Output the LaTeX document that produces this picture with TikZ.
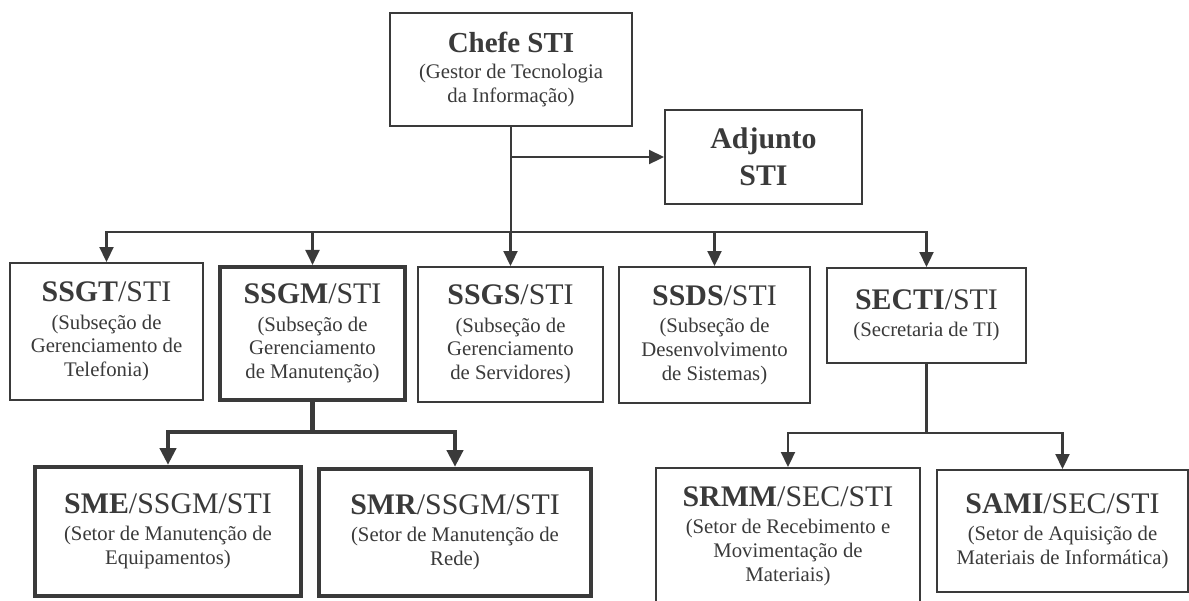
\documentclass[tikz,border=0pt]{standalone}
\usepackage{fontspec}
\setmainfont{Liberation Serif}
\usepackage{tikz}
\usetikzlibrary{positioning}
\usetikzlibrary{arrows.meta}

\definecolor{ink}{HTML}{3A3A3A}
\newcommand{\ttl}{\fontsize{17}{20}\selectfont}
\newcommand{\sub}{\fontsize{11.8}{13.5}\selectfont}

\begin{document}
\begin{tikzpicture}[
        box/.style 2 args = {
            draw = ink,
            line width = 1.2pt,
            fill = white,
            text = ink,
            align = center,
            font = \sub,
            inner sep = 0pt,
            minimum width = #1,
            minimum height = #2
        },
        heavy/.style = {line width = 2.4pt},
        link/.style = {draw = ink, line width = 1.2pt, -{Triangle[length=8.5pt, width=8pt]}},
        heavylink/.style = {draw = ink, line width = 2.4pt, -{Triangle[length=9.5pt, width=9pt]}}
        ]
%
        \useasboundingbox (0,0) rectangle (23.78,-12);
        \clip (0,0) rectangle (23.78,-12);
%
        \node[box={4.84cm}{2.26cm}, font=\fontsize{11.8}{14}\selectfont] (chefe) at (10.22,-1.39)
            {{\fontsize{16.5}{20}\selectfont\bfseries Chefe STI}\\[1pt] (Gestor de Tecnologia\\ da Informação)};
        \node[box={3.94cm}{1.88cm}, font=\fontsize{17}{21}\selectfont\bfseries] (adj) at (15.27,-3.14)
            {Adjunto\\ STI};
%
        \node[box={3.86cm}{2.74cm}] (ssgt) at (2.13,-6.63)
            {{\ttl\textbf{SSGT}/STI}\\[2pt] (Subseção de\\ Gerenciamento de\\ Telefonia)};
        \node[box={3.70cm}{2.66cm}, heavy] (ssgm) at (6.25,-6.67)
            {{\ttl\textbf{SSGM}/STI}\\[2pt] (Subseção de\\ Gerenciamento\\ de Manutenção)};
        \node[box={3.70cm}{2.70cm}] (ssgs) at (10.21,-6.69)
            {{\ttl\textbf{SSGS}/STI}\\[2pt] (Subseção de\\ Gerenciamento\\ de Servidores)};
        \node[box={3.82cm}{2.72cm}] (ssds) at (14.29,-6.70)
            {{\ttl\textbf{SSDS}/STI}\\[2pt] (Subseção de\\ Desenvolvimento\\ de Sistemas)};
        \node[box={3.98cm}{1.90cm}] (secti) at (18.53,-6.31)
            {{\ttl\textbf{SECTI}/STI}\\[2pt] (Secretaria de TI)};
%
        \node[box={5.32cm}{2.58cm}, heavy] (sme) at (3.36,-10.63)
            {{\ttl\textbf{SME}/SSGM/STI}\\[2pt] (Setor de Manutenção de\\ Equipamentos)};
        \node[box={5.44cm}{2.54cm}, heavy] (smr) at (9.10,-10.65)
            {{\ttl\textbf{SMR}/SSGM/STI}\\[2pt] (Setor de Manutenção de\\ Rede)};
        \node[box={5.28cm}{2.72cm}] (srmm) at (15.76,-10.72)
            {{\ttl\textbf{SRMM}/SEC/STI}\\[2pt] (Setor de Recebimento e\\ Movimentação de\\ Materiais)};
        \node[box={5.02cm}{2.44cm}] (sami) at (21.25,-10.62)
            {{\ttl\textbf{SAMI}/SEC/STI}\\[2pt] (Setor de Aquisição de\\ Materiais de Informática)};
%
        \coordinate (bus) at (0,-4.64);
        \coordinate (mbus) at (0,-8.64);
        \coordinate (sbus) at (0,-8.66);
%
        \draw[link, -] (chefe.south) -- (chefe.south |- bus);
        \draw[link] (chefe.south |- adj.west) -- (adj.west);
        \foreach \n in {ssgt, ssgm, ssgs, ssds, secti}
            \draw[link] (chefe.south |- bus) -| (\n.north);
%
        \draw[heavylink, -] (ssgm.south) -- (ssgm.south |- mbus);
        \foreach \n in {sme, smr}
            \draw[heavylink] (ssgm.south |- mbus) -| (\n.north);
%
        \draw[link, -] (secti.south) -- (secti.south |- sbus);
        \foreach \n in {srmm, sami}
            \draw[link] (secti.south |- sbus) -| (\n.north);
%
\end{tikzpicture}
\end{document}
